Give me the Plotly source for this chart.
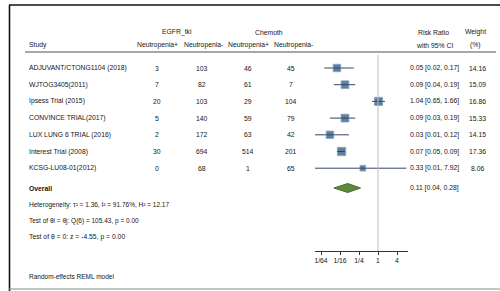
import math
import plotly.graph_objects as go

# ---- data ----
studies = ["ADJUVANT/CTONG1104 (2018)", "WJTOG3405(2011)", "Ipsess Trial (2015)",
           "CONVINCE TRIAL(2017)", "LUX LUNG 6 TRIAL (2016)", "Interest Trial (2008)",
           "KCSG-LU08-01(2012)"]
egfr_pos = [3, 7, 20, 5, 2, 30, 0]
egfr_neg = [103, 82, 103, 140, 172, 694, 68]
chemo_pos = [46, 61, 29, 59, 63, 514, 1]
chemo_neg = [45, 7, 104, 79, 42, 201, 65]
rr = [0.05, 0.09, 1.04, 0.09, 0.03, 0.07, 0.33]
rr_lo = [0.02, 0.04, 0.65, 0.03, 0.01, 0.05, 0.01]
rr_hi = [0.17, 0.19, 1.66, 0.19, 0.12, 0.09, 7.92]
weights = [14.16, 15.09, 16.86, 15.33, 14.15, 17.36, 8.06]
overall = (0.11, 0.04, 0.28)
stats_lines = ["Heterogeneity: τ² = 1.36, I² = 91.76%, H² = 12.17",
               "Test of θi = θj: Q(6) = 105.43, p = 0.00",
               "Test of θ = 0: z = -4.55, p = 0.00"]
stats_sizes = [6.5, 6.5, 6.8]
tick_vals = [1/64, 1/16, 1/4, 1, 4]
tick_text = ["1/64", "1/16", "1/4", "1", "4"]

W, H = 500, 291
FONT = "Liberation Sans Narrow, Arial Narrow, Liberation Sans, Arial"
TXT = "#161616"
FS = 6.8

def row_y(i):
    return 68 + 16.7 * i

ys = [row_y(i) for i in range(len(studies))]
y_overall = 188

fig = go.Figure()

# CI lines
cx, cy = [], []
for lo, hi, y in zip(rr_lo, rr_hi, ys):
    cx += [lo, hi, None]
    cy += [y, y, None]
fig.add_trace(go.Scatter(x=cx, y=cy, mode="lines",
                         line=dict(color="#36465c", width=1), hoverinfo="skip"))
# markers
sizes = [2.0 * math.sqrt(w) for w in weights]
fig.add_trace(go.Scatter(x=rr, y=ys, mode="markers",
                         marker=dict(symbol="square", size=sizes, color="#1d4a76",
                                     line=dict(color="#5a7fa8", width=0.8))))
# diamond
est, lo, hi = overall
dh = 4.5
fig.add_trace(go.Scatter(x=[lo, est, hi, est, lo],
                         y=[y_overall, y_overall - dh, y_overall, y_overall + dh, y_overall],
                         mode="lines", fill="toself", fillcolor="#5a8a3a",
                         line=dict(color="#476f2c", width=1), hoverinfo="skip"))

shapes = []
shapes.append(dict(type="line", xref="x", yref="y", x0=1, x1=1, y0=55, y1=251,
                   line=dict(color="#bdbdbd", width=1)))
shapes.append(dict(type="line", xref="paper", yref="y", x0=25 / W, x1=496 / W, y0=52, y1=52,
                   line=dict(color="#a8a8a8", width=2)))
shapes.append(dict(type="line", xref="paper", yref="y", x0=9 / W, x1=1, y0=5, y1=5,
                   line=dict(color="#111111", width=1.6)))
shapes.append(dict(type="line", xref="paper", yref="y", x0=9.5 / W, x1=9.5 / W, y0=5, y1=291,
                   line=dict(color="#111111", width=1.6)))
shapes.append(dict(type="line", xref="paper", yref="y", x0=9 / W, x1=1, y0=289, y1=289,
                   line=dict(color="#8a8a8a", width=1.2)))

ann = []
def txt(x, y, s, anchor="center", size=FS):
    ann.append(dict(x=x / W, y=y, xref="paper", yref="y", text=s, showarrow=False,
                    xanchor=anchor, yanchor="middle",
                    font=dict(family=FONT, size=size, color=TXT)))

txt(177, 32, "EGFR_tki")
txt(269, 32, "Chemoth")
txt(433, 32, "Risk Ratio")
txt(475, 32, "Weight")
txt(27, 45, "Study", "left")
for xc, lab in zip([157, 203, 248, 293],
                   ["Neutropenia+", "Neutropenia-", "Neutropenia+", "Neutropenia-"]):
    txt(xc, 45, lab)
txt(434, 45, "with 95% CI")
txt(475, 45, "(%)")

for i, y in enumerate(ys):
    txt(27, y, studies[i], "left")
    txt(157, y, str(egfr_pos[i]))
    txt(202, y, str(egfr_neg[i]))
    txt(248, y, str(chemo_pos[i]))
    txt(291, y, str(chemo_neg[i]))
    txt(434, y, f"{rr[i]:.2f} [{rr_lo[i]:.2f}, {rr_hi[i]:.2f}]")
    txt(477, y, f"{weights[i]:.2f}")

txt(27, y_overall, "<b>Overall</b>", "left")
txt(434, y_overall, f"{est:.2f} [{lo:.2f}, {hi:.2f}]")
for k, (s, sz) in enumerate(zip(stats_lines, stats_sizes)):
    txt(27, 205 + 16 * k, s, "left", sz)
txt(27, 276, "Random-effects REML model", "left", 6.5)

px_per_log2 = 9.5
x_one = 378
def px_to_log10(px):
    return (px - x_one) / px_per_log2 * math.log10(2)

fig.update_layout(
    width=W, height=H, margin=dict(l=0, r=0, t=0, b=0),
    paper_bgcolor="white", plot_bgcolor="rgba(0,0,0,0)",
    showlegend=False, shapes=shapes, annotations=ann,
    xaxis=dict(type="log", domain=[315 / W, 408 / W],
               range=[px_to_log10(315), px_to_log10(408)],
               anchor="free", position=(H - 251) / H,
               showline=True, linecolor="#333333", linewidth=1,
               ticks="outside", ticklen=3, tickcolor="#333333",
               tickvals=tick_vals, ticktext=tick_text,
               tickfont=dict(family=FONT, size=FS, color=TXT),
               showgrid=False, zeroline=False),
    yaxis=dict(range=[H, 0], domain=[0, 1], visible=False, showgrid=False, zeroline=False),
)

fig.write_html("out.html", config={"displayModeBar": False},
               post_script="document.body.style.margin='0';document.body.style.overflow='hidden';")
